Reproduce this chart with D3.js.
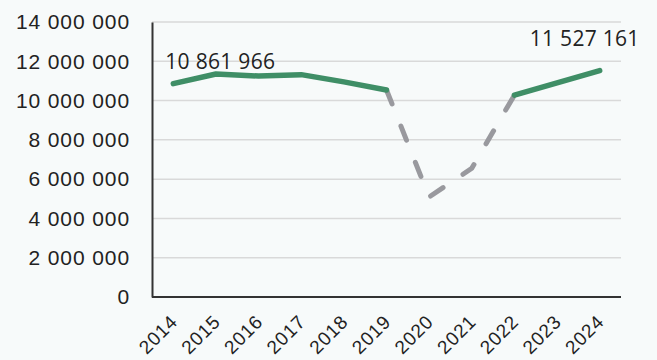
<!DOCTYPE html>
<html>
<head>
<meta charset="utf-8">
<script src="https://cdn.jsdelivr.net/npm/d3@7"></script>
<style>
  body { margin: 0; background: #f7fafa; }
  svg { display: block; font-family: "Open Sans", "DejaVu Sans", sans-serif; }
</style>
</head>
<body>
<div id="chart"></div>
<script>
// data
var years = ["2014", "2015", "2016", "2017", "2018", "2019", "2020", "2021", "2022", "2023", "2024"];
var values = [10861966, 11350000, 11250000, 11320000, 10950000, 10540000, 5090000, 6550000, 10280000, 10900000, 11527161];
// dashed part of the line (pandemic years)
var dashedYears = ["2019", "2020", "2021", "2022"];
var yTicks = [0, 2000000, 4000000, 6000000, 8000000, 10000000, 12000000, 14000000];
var labelled = ["2014", "2024"];

var W = 657, H = 360;
var margin = {top: 22, right: 36, bottom: 63, left: 152},
    width = W - margin.left - margin.right,
    height = H - margin.top - margin.bottom;

var svg = d3.select("#chart").append("svg")
    .attr("width", W).attr("height", H);
var g = svg.append("g")
    .attr("transform", "translate(" + margin.left + "," + margin.top + ")");

var x = d3.scalePoint().domain(years).range([0, width]).padding(0.5);
var y = d3.scaleLinear().domain([0, 14000000]).range([height, 0]);

// number format with spaces
function fmt(v) {
  return d3.format(",")(v).replace(/,/g, " ");
}

// gridlines
g.selectAll(".grid").data(yTicks.filter(function(d) { return d > 0; }))
  .enter().append("line")
    .attr("x1", 0).attr("x2", width)
    .attr("y1", function(d) { return y(d); })
    .attr("y2", function(d) { return y(d); })
    .attr("stroke", "#d9d9d9").attr("stroke-width", 1.5);

// y axis
var yAxis = g.append("g").call(d3.axisLeft(y).tickValues(yTicks).tickSize(0).tickPadding(22).tickFormat(fmt));
yAxis.select(".domain").attr("stroke", "#333").attr("stroke-width", 2);
yAxis.selectAll("text").attr("font-size", 21).attr("letter-spacing", 0.9).attr("fill", "#222");

// x axis
var xAxis = g.append("g").attr("transform", "translate(0," + height + ")")
  .call(d3.axisBottom(x).tickSize(0).tickSizeOuter(0));
xAxis.select(".domain").attr("stroke", "#333").attr("stroke-width", 2)
  .attr("d", "M0,0H" + width);
xAxis.selectAll("text")
  .attr("font-size", 19).attr("letter-spacing", 0.8).attr("fill", "#222")
  .attr("text-anchor", "end")
  .attr("dy", 0).attr("y", 0)
  .attr("transform", "translate(5,26) rotate(-45)");

var pts = years.map(function(d, i) { return {year: d, value: values[i]}; });
var line = d3.line().x(function(d) { return x(d.year); }).y(function(d) { return y(d.value); });

var first = dashedYears[0], last = dashedYears[dashedYears.length - 1];
var i0 = years.indexOf(first), i1 = years.indexOf(last);

g.append("path").datum(pts.slice(i0, i1 + 1))
  .attr("d", line).attr("fill", "none")
  .attr("stroke", "#99999e").attr("stroke-width", 5)
  .attr("stroke-linecap", "round").attr("stroke-dasharray", "15,24");

[pts.slice(0, i0 + 1), pts.slice(i1)].forEach(function(seg) {
  g.append("path").datum(seg)
    .attr("d", line).attr("fill", "none")
    .attr("stroke", "#3f8e66").attr("stroke-width", 5.5)
    .attr("stroke-linecap", "round").attr("stroke-linejoin", "round");
});

// data labels
g.selectAll(".lbl").data(pts.filter(function(d) { return labelled.indexOf(d.year) >= 0; }))
  .enter().append("text")
    .attr("x", function(d, i) { return i == 0 ? x(d.year) - 8 : x(d.year) + 40; })
    .attr("y", function(d, i) { return i == 0 ? y(d.value) - 15 : y(d.value) - 25; })
    .attr("text-anchor", function(d, i) { return i == 0 ? "start" : "end"; })
    .attr("font-size", 21).attr("letter-spacing", 0.3).attr("fill", "#222")
    .text(function(d) { return fmt(d.value); });
</script>
</body>
</html>
